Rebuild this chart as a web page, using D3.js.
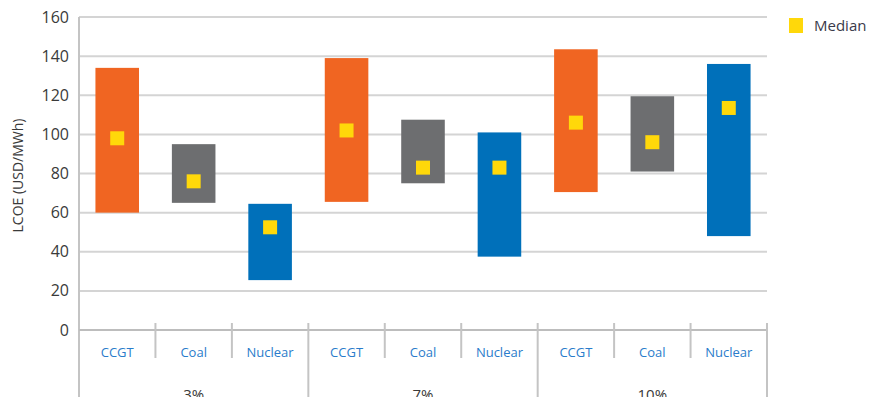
<!DOCTYPE html>
<html>
<head>
<meta charset="utf-8">
<script src="https://cdn.jsdelivr.net/npm/d3@7"></script>
<style>
  body { margin: 0; background: #fff; }
  svg { display: block; font-family: "Open Sans", "DejaVu Sans", sans-serif; }
</style>
</head>
<body>
<div id="chart"></div>
<script>
// discount rates and technologies
const groups = ["3%", "7%", "10%"];
const techs = ["CCGT", "Coal", "Nuclear"];

// LCOE ranges (USD/MWh), one entry per group, in techs order
const lowValues = [
  [60, 65, 25.5],
  [65.5, 75, 37.5],
  [70.5, 81, 48]
];
const highValues = [
  [134, 95, 64.5],
  [139, 107.5, 101],
  [143.5, 119.5, 136]
];
const medianValues = [
  [98, 76, 52.5],
  [102, 83, 83],
  [106, 96, 113.5]
];
const yTicks = [0, 20, 40, 60, 80, 100, 120, 140, 160];

const techColor = { CCGT: "#f06522", Coal: "#6d6e70", Nuclear: "#0070ba" };

const width = 874, height = 397;
const margin = { top: 17, left: 79, right: 107, bottom: 67 };

const svg = d3.select("#chart").append("svg")
  .attr("width", width).attr("height", height);

// flatten into one row per bar
const rows = [];
groups.forEach((g, gi) => {
  techs.forEach((t, ti) => {
    rows.push({
      key: g + "|" + t, group: g, tech: t,
      low: lowValues[gi][ti], high: highValues[gi][ti], median: medianValues[gi][ti]
    });
  });
});

const x = d3.scaleBand()
  .domain(rows.map(d => d.key))
  .range([margin.left, width - margin.right])
  .paddingInner(0.43).paddingOuter(0.215);

const y = d3.scaleLinear()
  .domain([0, 160])
  .range([height - margin.bottom, margin.top]);

const step = x.step();
const x0 = margin.left, x1 = width - margin.right;

// gridlines
svg.append("g").selectAll("line")
  .data(yTicks.filter(d => d > 0))
  .join("line")
  .attr("x1", x0).attr("x2", x1)
  .attr("y1", d => y(d)).attr("y2", d => y(d))
  .attr("stroke", "#d4d4d4").attr("stroke-width", 2);

// y axis labels
svg.append("g").selectAll("text")
  .data(yTicks)
  .join("text")
  .attr("x", 69).attr("y", d => y(d))
  .attr("dy", "0.35em")
  .attr("text-anchor", "end")
  .attr("fill", "#3a3a3a")
  .style("font-size", "16px")
  .text(d => d);

svg.append("text")
  .attr("transform", `translate(23,${(margin.top + y(0)) / 2 + 2}) rotate(-90)`)
  .attr("text-anchor", "middle")
  .attr("fill", "#3a3a3a")
  .style("font-size", "14px")
  .text("LCOE (USD/MWh)");

// left axis line
svg.append("line")
  .attr("x1", x0).attr("x2", x0)
  .attr("y1", margin.top).attr("y2", height)
  .attr("stroke", "#c4c4c4").attr("stroke-width", 2);

// zero line
svg.append("line")
  .attr("x1", x0).attr("x2", x1)
  .attr("y1", y(0)).attr("y2", y(0))
  .attr("stroke", "#bdbdbd").attr("stroke-width", 2);

// category separators (short) and group separators (long)
const seps = d3.range(1, rows.length + 1);
svg.append("g").selectAll("line")
  .data(seps)
  .join("line")
  .attr("x1", i => x0 + i * step).attr("x2", i => x0 + i * step)
  .attr("y1", y(0) - 7)
  .attr("y2", i => i % 3 === 0 ? height : y(0) + 28)
  .attr("stroke", "#c4c4c4").attr("stroke-width", 2);

// bars
svg.append("g").selectAll("rect")
  .data(rows)
  .join("rect")
  .attr("x", d => x(d.key))
  .attr("width", x.bandwidth())
  .attr("y", d => y(d.high))
  .attr("height", d => y(d.low) - y(d.high))
  .attr("fill", d => techColor[d.tech]);

// medians
const sq = 14;
svg.append("g").selectAll("rect")
  .data(rows)
  .join("rect")
  .attr("x", d => x(d.key) + x.bandwidth() / 2 - sq / 2)
  .attr("y", d => y(d.median) - sq / 2)
  .attr("width", sq).attr("height", sq)
  .attr("fill", "#ffd80a");

// category labels
svg.append("g").selectAll("text")
  .data(rows)
  .join("text")
  .attr("x", d => x(d.key) + x.bandwidth() / 2)
  .attr("y", y(0) + 22)
  .attr("dy", "0.35em")
  .attr("text-anchor", "middle")
  .attr("fill", "#2a7ccb")
  .style("font-size", "13px")
  .text(d => d.tech);

// group labels (cut by the bottom edge, as in the source)
svg.append("g").selectAll("text")
  .data(groups)
  .join("text")
  .attr("x", (d, i) => x0 + (i * 3 + 1.5) * step)
  .attr("y", 400)
  .attr("text-anchor", "middle")
  .attr("fill", "#3a3a3a")
  .style("font-size", "15px")
  .text(d => d);

// legend
svg.append("rect")
  .attr("x", 789).attr("y", 18)
  .attr("width", 14).attr("height", 15)
  .attr("fill", "#ffd80a");
svg.append("text")
  .attr("x", 814).attr("y", 26)
  .attr("dy", "0.35em")
  .attr("fill", "#3a3a4a")
  .style("font-size", "15px")
  .text("Median");
</script>
</body>
</html>
